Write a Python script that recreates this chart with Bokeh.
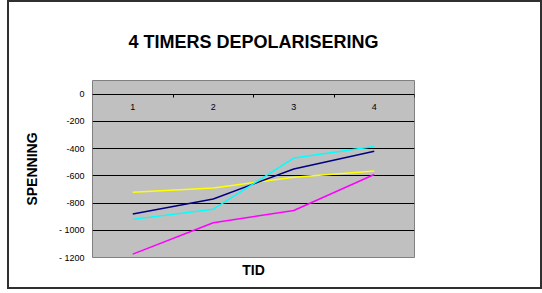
from bokeh.plotting import figure
from bokeh.models import LinearAxis, FixedTicker, Range1d, Title, Grid
from bokeh.embed import file_html
from bokeh.resources import INLINE

# Data
tid = [1, 2, 3, 4]
tick_labels = ["1", "2", "3", "4"]
serie_navy = [-880, -770, -550, -420]
serie_cyan = [-920, -845, -470, -385]
serie_yellow = [-720, -690, -610, -565]
serie_magenta = [-1175, -945, -855, -590]
y_ticks = [0, -200, -400, -600, -800, -1000, -1200]
y_tick_labels = ["0", "-200", "-400", "-600", "-800", "- 1000", "- 1200"]
boundaries = [1.5, 2.5, 3.5, 4.5]

FONT = "Liberation Sans"

p = figure(width=535, height=289, output_backend="svg", toolbar_location=None,
           x_range=Range1d(0.5, 4.5), y_range=Range1d(-1200, 100),
           x_axis_location=None, y_axis_location=None,
           min_border_left=83, min_border_right=130,
           min_border_top=78, min_border_bottom=34)
p.styles = {"border": "2px solid #303030", "box-sizing": "border-box",
            "margin-left": "7px"}

p.background_fill_color = "#C0C0C0"
p.outline_line_color = "#808080"
p.outline_line_width = 1
p.border_fill_color = "white"

p.title.text = "4 TIMERS DEPOLARISERING"
p.title.align = "center"
p.title.vertical_align = "top"
p.title.standoff = 53
p.title.text_font = FONT
p.title.text_font_size = "18px"
p.title.text_font_style = "bold"
p.title.text_color = "black"

# left axis
yax = LinearAxis(ticker=FixedTicker(ticks=y_ticks),
                 major_label_overrides={v: l for v, l in zip(y_ticks, y_tick_labels)},
                 axis_line_color=None, major_tick_line_color=None, minor_tick_line_color=None,
                 major_tick_out=0, major_tick_in=0, major_label_standoff=8,
                 major_label_text_font=FONT, major_label_text_font_size="9px",
                 major_label_text_color="black",
                 axis_label="SPENNING", axis_label_text_font=FONT,
                 axis_label_text_color="black",
                 axis_label_text_font_size="14px", axis_label_text_font_style="bold",
                 axis_label_standoff=16)
p.add_layout(yax, "left")

# bottom axis (label only)
xlab = LinearAxis(ticker=FixedTicker(ticks=[]), axis_line_color=None,
                  major_tick_line_color=None, minor_tick_line_color=None,
                  axis_label="TID", axis_label_text_font=FONT,
                  axis_label_text_color="black",
                  axis_label_text_font_size="14px", axis_label_text_font_style="bold",
                  axis_label_standoff=4)
p.add_layout(xlab, "below")

# axis crossing at 0: tick marks at category boundaries
xticks_ax = LinearAxis(ticker=FixedTicker(ticks=boundaries), fixed_location=0,
                       major_label_overrides={b: "" for b in boundaries},
                       axis_line_color="black",
                       major_tick_line_color="black", major_tick_out=3, major_tick_in=0,
                       minor_tick_line_color=None)
p.add_layout(xticks_ax, "below")
# category labels
xcat_ax = LinearAxis(ticker=FixedTicker(ticks=tid),
                     major_label_overrides={v: l for v, l in zip(tid, tick_labels)},
                     fixed_location=0, axis_line_color=None, major_tick_line_color=None,
                     minor_tick_line_color=None, major_tick_out=0, major_label_standoff=10,
                     major_label_text_font=FONT, major_label_text_font_size="9px",
                     major_label_text_color="black")
p.add_layout(xcat_ax, "below")

p.xgrid.visible = False
p.ygrid.visible = False
p.add_layout(Grid(dimension=1, ticker=FixedTicker(ticks=y_ticks), grid_line_color="black",
                  grid_line_width=1))

for ys, c in [(serie_yellow, "#FFFF00"), (serie_magenta, "#FF00FF"),
              (serie_navy, "#000080"), (serie_cyan, "#00FFFF")]:
    p.line(tid, ys, line_color=c, line_width=1.5)

open("out.html", "w").write(file_html(p, INLINE))
